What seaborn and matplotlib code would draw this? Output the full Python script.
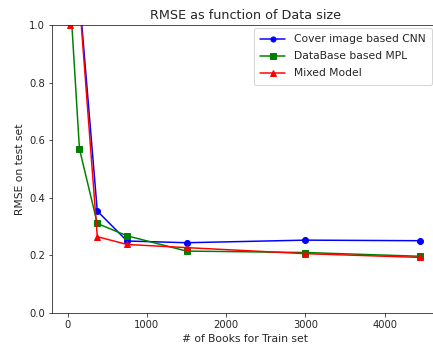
import pandas as pd
import matplotlib
matplotlib.use("Agg")
import matplotlib.pyplot as plt
import seaborn as sns

# Data
cnn_x = [40, 165, 375, 750, 1500, 3000, 4450]
cnn_y = [1.06, 1.05, 0.354, 0.250, 0.244, 0.253, 0.251]

mpl_x = [50, 150, 375, 750, 1500, 3000, 4450]
mpl_y = [1.02, 0.570, 0.311, 0.268, 0.215, 0.210, 0.197]

mixed_x = [25, 165, 375, 750, 1500, 3000, 4450]
mixed_y = [1.0, 1.03, 0.265, 0.238, 0.227, 0.206, 0.193]

labels = ["Cover image based CNN", "DataBase based MPL", "Mixed Model"]
colors = ["blue", "green", "red"]
markers = ["o", "s", "^"]

sns.set_style("ticks")
plt.rcParams["font.family"] = ["DejaVu Sans"]
plt.rcParams["font.size"] = 10

fig = plt.figure(figsize=(433 / 72, 346 / 72), dpi=72)
ax = fig.add_axes([52 / 433, 33 / 346, 386 / 433, 288 / 346])

series = [(cnn_x, cnn_y), (mpl_x, mpl_y), (mixed_x, mixed_y)]
for (xs, ys), lab, col, mk in zip(series, labels, colors, markers):
    df = pd.DataFrame({"x": xs, "y": ys})
    sns.lineplot(
        data=df,
        x="x",
        y="y",
        ax=ax,
        color=col,
        marker=mk,
        markersize=6,
        markeredgecolor=col,
        markeredgewidth=1,
        linewidth=1.5,
        label=lab,
    )

ax.set_xlim(-196, 4671)
ax.set_ylim(0, 1.0)
ax.set_xticks([0, 1000, 2000, 3000, 4000])
ax.set_yticks([0.0, 0.2, 0.4, 0.6, 0.8, 1.0])

ax.set_title("RMSE as function of Data size", fontsize=12.8)
ax.set_xlabel("# of Books for Train set", fontsize=10.8)
ax.set_ylabel("RMSE on test set", fontsize=10.8)

ax.legend(
    loc="upper right",
    bbox_to_anchor=(0.984, 0.99),
    borderaxespad=0,
    fontsize=10.8,
    handlelength=2.3,
    labelspacing=0.65,
    borderpad=0.6,
    markerscale=0.85,
)

fig.savefig("out.png", dpi=72)
